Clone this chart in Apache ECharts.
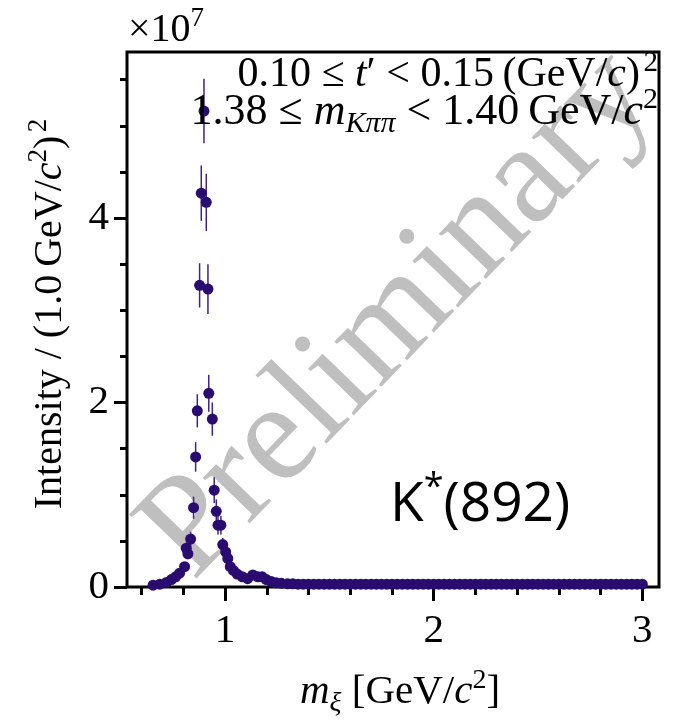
<!DOCTYPE html>
<html>
<head>
<meta charset="utf-8">
<script src="https://cdn.jsdelivr.net/npm/echarts@6/dist/echarts.min.js"></script>
<style>
  html, body { margin: 0; padding: 0; background: #fff; }
  #main { width: 681px; height: 720px; }
</style>
</head>
<body>
<div id="main"></div>
<script>
// m_xi in GeV/c^2
var mass = [
  0.655, 0.687, 0.719, 0.743, 0.763, 0.782, 0.806, 0.814, 0.822, 0.835,
  0.849, 0.859, 0.867, 0.878, 0.886, 0.899, 0.910, 0.918, 0.922, 0.939,
  0.948, 0.958, 0.966, 0.980, 0.989, 1.003, 1.013, 1.025, 1.040, 1.058,
  1.083, 1.108, 1.133, 1.157, 1.178, 1.198, 1.221, 1.245, 1.270,
  1.300, 1.325, 1.350, 1.375, 1.400, 1.425, 1.450, 1.475, 1.500, 1.525,
  1.550, 1.575, 1.600, 1.625, 1.650, 1.675, 1.700, 1.725, 1.750, 1.775,
  1.800, 1.825, 1.850, 1.875, 1.900, 1.925, 1.950, 1.975, 2.000, 2.025,
  2.050, 2.075, 2.100, 2.125, 2.150, 2.175, 2.200, 2.225, 2.250, 2.275,
  2.300, 2.325, 2.350, 2.375, 2.400, 2.425, 2.450, 2.475, 2.500, 2.525,
  2.550, 2.575, 2.600, 2.625, 2.650, 2.675, 2.700, 2.725, 2.750, 2.775,
  2.800, 2.825, 2.850, 2.875, 2.900, 2.925, 2.950, 2.975, 3.000
];
// intensity in units of 1e7
var intensity = [
  0.02, 0.03, 0.05, 0.08, 0.11, 0.15, 0.22, 0.42, 0.36, 0.52,
  0.86, 1.41, 1.91, 3.27, 4.27, 5.16, 4.17, 3.23, 2.10, 1.82,
  1.05, 0.82, 0.67, 0.67, 0.46, 0.38, 0.31, 0.22, 0.18, 0.14,
  0.11, 0.09, 0.13, 0.11, 0.11, 0.08, 0.06, 0.045, 0.04,
  0.035, 0.035, 0.03, 0.03, 0.03, 0.03, 0.03, 0.03, 0.03, 0.03,
  0.03, 0.03, 0.03, 0.03, 0.03, 0.03, 0.03, 0.03, 0.03, 0.03,
  0.03, 0.03, 0.03, 0.03, 0.03, 0.03, 0.03, 0.03, 0.03, 0.03,
  0.03, 0.03, 0.03, 0.03, 0.03, 0.03, 0.03, 0.03, 0.03, 0.03,
  0.03, 0.03, 0.03, 0.03, 0.03, 0.03, 0.03, 0.03, 0.03, 0.03,
  0.03, 0.03, 0.03, 0.03, 0.03, 0.03, 0.03, 0.03, 0.03, 0.03,
  0.03, 0.03, 0.03, 0.03, 0.03, 0.03, 0.03, 0.03, 0.03
];
var errors = [
  0.01, 0.01, 0.01, 0.02, 0.02, 0.03, 0.04, 0.06, 0.06, 0.08,
  0.12, 0.16, 0.18, 0.24, 0.30, 0.35, 0.31, 0.27, 0.20, 0.18,
  0.14, 0.13, 0.10, 0.10, 0.07, 0.05, 0.04, 0.03, 0.03, 0.02,
  0.02, 0.02, 0.02, 0.02, 0.02, 0.01, 0.01, 0.01, 0.01
];

var xMajorTicks = [1, 2, 3];
var xMinorTicks = [0.6, 0.8, 1.2, 1.4, 1.6, 1.8, 2.2, 2.4, 2.6, 2.8];
var yMajorTicks = [0, 2, 4];
var yMinorTicks = [0.5, 1, 1.5, 2.5, 3, 3.5, 4.5, 5, 5.5];

var points = mass.map(function (m, i) {
  return [m, intensity[i], errors[i] || 0];
});

var serif = "'Liberation Serif', 'Times New Roman', serif";
function richSerif(size) {
  var small = Math.round(size * 0.68);
  return {
    it: { fontFamily: serif, fontSize: size, fontStyle: 'italic', lineHeight: size + 10 },
    sup: { fontFamily: serif, fontSize: small, lineHeight: small, verticalAlign: 'top' },
    sub: { fontFamily: serif, fontSize: small, lineHeight: small, verticalAlign: 'bottom', fontStyle: 'italic' }
  };
}
function serifText(x, y, text, align, size, extra) {
  var el = {
    type: 'text', x: x, y: y, z: 10,
    style: {
      text: text, fontFamily: serif, fontSize: size, lineHeight: size + 10, fill: '#000',
      textAlign: align, textVerticalAlign: 'middle', rich: richSerif(size)
    }
  };
  for (var k in extra) el[k] = extra[k];
  return el;
}

var myChart = echarts.init(document.getElementById('main'));
var option = {
  backgroundColor: '#fff',
  animation: false,
  grid: {
    left: 127, right: 22, top: 52, bottom: 133,
    show: true, borderColor: '#000', borderWidth: 3,
    outerBoundsMode: 'none'
  },
  xAxis: [{
    type: 'value', min: 0.53, max: 3.08, position: 'bottom',
    axisLine: { show: false }, splitLine: { show: false },
    axisTick: { customValues: xMajorTicks, length: 14, lineStyle: { color: '#000', width: 3 } },
    axisLabel: { customValues: xMajorTicks, margin: 24, fontFamily: serif, fontSize: 41, color: '#000' }
  }, {
    type: 'value', min: 0.53, max: 3.08, position: 'bottom',
    axisLine: { show: false }, splitLine: { show: false }, axisLabel: { show: false },
    axisTick: { customValues: xMinorTicks, length: 8, lineStyle: { color: '#000', width: 3 } }
  }],
  yAxis: [{
    type: 'value', min: 0, max: 5.8, position: 'left',
    axisLine: { show: false }, splitLine: { show: false },
    axisTick: { customValues: yMajorTicks, length: 13, lineStyle: { color: '#000', width: 3 } },
    axisLabel: { customValues: yMajorTicks, margin: 18, fontFamily: serif, fontSize: 41, color: '#000' }
  }, {
    type: 'value', min: 0, max: 5.8, position: 'left',
    axisLine: { show: false }, splitLine: { show: false }, axisLabel: { show: false },
    axisTick: { customValues: yMinorTicks, length: 7, lineStyle: { color: '#000', width: 3 } }
  }],
  graphic: [
    {
      type: 'text', x: 399, y: 315, z: 0, rotation: 46 * Math.PI / 180,
      style: {
        text: 'Preliminary', fontFamily: serif, fontSize: 142, fill: '#bfbfbf',
        textAlign: 'center', textVerticalAlign: 'middle'
      }
    },
    serifText(128, 30, '×10{sup|7}', 'left', 40, {}),
    serifText(658, 75, '0.10 ≤ {it|t}′ < 0.15\u2009(GeV/{it|c})\u200a{sup|2}', 'right', 42, {}),
    serifText(658, 112, '1.38 ≤ {it|m}{sub|Kππ} < 1.40\u2009GeV/{it|c}{sup|2}', 'right', 44, {}),
    serifText(400, 692, '{it|m}{sub|ξ} [GeV/{it|c}{sup|2}]', 'center', 41, {}),
    serifText(50, 314, 'Intensity / (1.0\u2009GeV/{it|c}{sup|2})\u200a{sup|2}', 'center', 40, { rotation: Math.PI / 2 }),
    {
      type: 'text', x: 390, y: 505, z: 10,
      style: {
        text: 'K{s|*}(892)', fontFamily: 'Open Sans', fontSize: 55, lineHeight: 70, fill: '#000',
        textAlign: 'left', textVerticalAlign: 'middle',
        rich: { s: { fontFamily: 'Open Sans', fontSize: 36, lineHeight: 40, verticalAlign: 'top' } }
      }
    }
  ],
  series: [{
    type: 'custom',
    xAxisIndex: 0, yAxisIndex: 0,
    data: points,
    encode: { x: 0, y: 1 },
    z: 3,
    renderItem: function (params, api) {
      var x = api.value(0), y = api.value(1), e = api.value(2);
      var p1 = api.coord([x, y - e]);
      var p2 = api.coord([x, y + e]);
      return {
        type: 'line',
        shape: { x1: p1[0], y1: p1[1], x2: p2[0], y2: p2[1] },
        style: { stroke: '#3f2190', lineWidth: 1.5 }
      };
    }
  }, {
    type: 'scatter',
    xAxisIndex: 0, yAxisIndex: 0,
    data: points,
    symbol: 'circle',
    symbolSize: 11,
    z: 4,
    itemStyle: { color: '#2a0b6f', opacity: 1 }
  }]
};
myChart.setOption(option);
</script>
</body>
</html>
